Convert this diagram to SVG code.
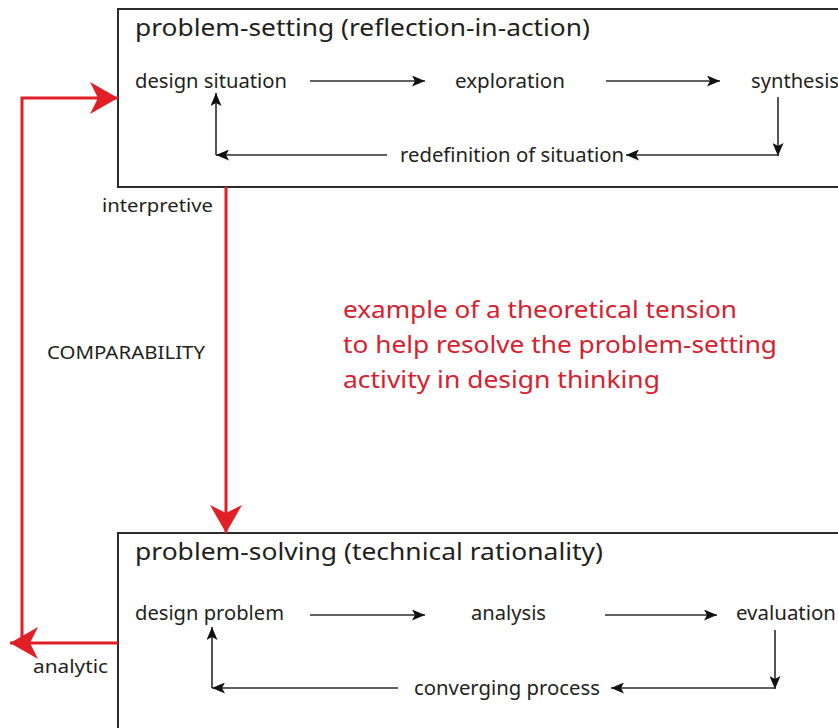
<svg xmlns="http://www.w3.org/2000/svg" width="838" height="728" viewBox="0 0 838 728">
<style>
text{font-family:"Noto Sans","Open Sans","DejaVu Sans",sans-serif;fill:#231f20}
.t{font-size:24px}
.b{font-size:20px}
.s{font-size:18px}
.r{font-size:24px;fill:#d9202e}
.box{fill:#fff;stroke:#2b2b2b;stroke-width:2}
.k{fill:none;stroke:#2b2b2b;stroke-width:1.6}
.rl{fill:none;stroke:#e01f26;stroke-width:3}
</style>
<defs>
<marker id="ah" viewBox="0 0 13 11" refX="13" refY="5.5" markerWidth="13" markerHeight="11" markerUnits="userSpaceOnUse" orient="auto">
<path d="M0,0 L13,5.5 L0,11 L3,5.5 z" fill="#111"/>
</marker>
<marker id="rh" viewBox="0 0 28 32" refX="28" refY="16" markerWidth="28" markerHeight="32" markerUnits="userSpaceOnUse" orient="auto">
<path d="M0,0 L28,16 L0,32 L8,16 z" fill="#e01f26"/>
</marker>
</defs>
<rect width="838" height="728" fill="#fff"/>
<g id="problem-setting">
<rect class="box" x="118" y="9" width="740" height="178"/>
<text class="t" x="135" y="36" textLength="455" lengthAdjust="spacingAndGlyphs">problem-setting (reflection-in-action)</text>
</g>
<g id="design-situation"><text class="b" x="135" y="88" textLength="152" lengthAdjust="spacingAndGlyphs">design situation</text></g>
<g id="exploration"><text class="b" x="455" y="88" textLength="110" lengthAdjust="spacingAndGlyphs">exploration</text></g>
<g id="synthesis"><text class="b" x="751" y="88" textLength="88" lengthAdjust="spacingAndGlyphs">synthesis</text></g>
<g id="redefinition"><text class="b" x="400" y="162" textLength="224" lengthAdjust="spacingAndGlyphs">redefinition of situation</text></g>
<g id="problem-solving">
<rect class="box" x="118" y="533" width="740" height="210"/>
<text class="t" x="135" y="560" textLength="468" lengthAdjust="spacingAndGlyphs">problem-solving (technical rationality)</text>
</g>
<g id="design-problem"><text class="b" x="135" y="620" textLength="149" lengthAdjust="spacingAndGlyphs">design problem</text></g>
<g id="analysis"><text class="b" x="471" y="620" textLength="75" lengthAdjust="spacingAndGlyphs">analysis</text></g>
<g id="evaluation"><text class="b" x="736" y="620" textLength="100" lengthAdjust="spacingAndGlyphs">evaluation</text></g>
<g id="converging"><text class="b" x="414" y="695" textLength="186" lengthAdjust="spacingAndGlyphs">converging process</text></g>
<g id="labels">
<text class="s" x="102" y="212" textLength="111" lengthAdjust="spacingAndGlyphs">interpretive</text>
<text class="s" x="47" y="359" textLength="158" lengthAdjust="spacingAndGlyphs">COMPARABILITY</text>
<text class="s" x="33" y="673" textLength="75" lengthAdjust="spacingAndGlyphs">analytic</text>
</g>
<g id="note">
<text class="r" x="343" y="318" textLength="394" lengthAdjust="spacingAndGlyphs">example of a theoretical tension</text>
<text class="r" x="343" y="353" textLength="434" lengthAdjust="spacingAndGlyphs">to help resolve the problem-setting</text>
<text class="r" x="343" y="388" textLength="317" lengthAdjust="spacingAndGlyphs">activity in design thinking</text>
</g>
<g id="connectors">
<path class="k" d="M310,81 L425,81" marker-end="url(#ah)"/>
<path class="k" d="M606,81 L720,81" marker-end="url(#ah)"/>
<path class="k" d="M778,97 L778,156" marker-end="url(#ah)"/>
<path class="k" d="M778,155 L626,155" marker-end="url(#ah)"/>
<path class="k" d="M387,155 L216,155" marker-end="url(#ah)"/>
<path class="k" d="M216,155 L216,93" marker-end="url(#ah)"/>
<path class="k" d="M310,615 L425,615" marker-end="url(#ah)"/>
<path class="k" d="M605,615 L717,615" marker-end="url(#ah)"/>
<path class="k" d="M775,630 L775,689" marker-end="url(#ah)"/>
<path class="k" d="M775,688 L611,688" marker-end="url(#ah)"/>
<path class="k" d="M398,688 L212,688" marker-end="url(#ah)"/>
<path class="k" d="M212,688 L212,627" marker-end="url(#ah)"/>
<path class="rl" d="M226,187 L226,533" marker-end="url(#rh)"/>
<path class="rl" d="M118,643 L10,643" marker-end="url(#rh)"/>
<path class="rl" d="M22,643 L22,98 L118,98" marker-end="url(#rh)"/>
</g>
</svg>
